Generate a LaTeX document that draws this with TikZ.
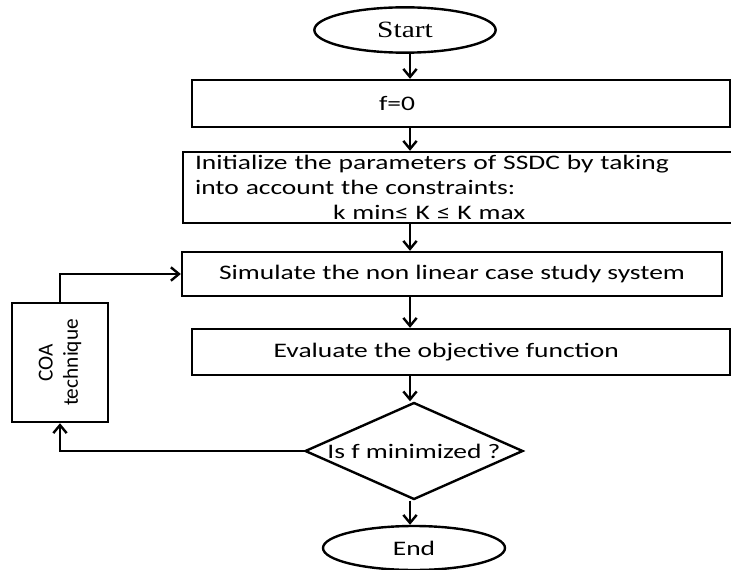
\documentclass[tikz,border=0pt]{standalone}
\usepackage{fontspec}
\setmainfont{Carlito}[FakeStretch=1.33]
\newfontfamily\startfont{Liberation Serif}[FakeStretch=1.26]
\newfontfamily\coafont{Carlito}
\usetikzlibrary{arrows.meta,shapes.geometric}
\tikzset{
  txt/.style  = {font=\fontsize{15.5}{19}\selectfont},
  box/.style  = {draw=black, line width=1.8pt, inner sep=0pt, txt},
  term/.style = {ellipse, draw=black, line width=1.8pt, inner sep=0pt,
                 minimum width=136pt, minimum height=34pt},
  dec/.style  = {diamond, draw=black, line width=1.8pt, inner sep=0pt,
                 minimum width=163.5pt, minimum height=72.75pt},
  ar/.style   = {-{Straight Barb[length=6pt,width=10pt]}, line width=1.8pt},
}

\begin{document}
\begin{tikzpicture}[x=0.75pt, y=-0.75pt]
  \useasboundingbox (0,0) rectangle (731,570);
  \coordinate (spine) at (410,0);
  % main column
  \node[term, font=\startfont\fontsize{17.5}{20}\selectfont] (start) at (405,30) {Start};
  \node[box, minimum width=403.5pt, minimum height=35.25pt,
        label={[txt, xshift=-48pt]center:f=0}] (f0) at (461,103.5) {};
  \node[box, text width=403.5pt, inner xsep=9pt, minimum height=53.25pt, align=left,
        font=\fontsize{15.5}{18.75}\selectfont] (init) at (464,187.5)
       {Initialize the parameters of SSDC by taking\\
        into account the constraints:\\
        \hspace*{103.5pt}k min≤ K ≤ K max};
  \node[box, minimum width=405pt, minimum height=33pt] (sim) at (452,274)
       {Simulate the non linear case study system};
  \node[box, minimum width=403.5pt, minimum height=34.5pt,
        label={[txt, xshift=-11pt]center:Evaluate the objective function}] (eval) at (461,352) {};
  \node[dec, label={[txt]center:Is f minimized ?}] (dec) at (414,451) {};
  \node[term, txt, minimum width=136.5pt, minimum height=33pt] (end) at (414,548) {End};
  % optimiser
  \node[box, minimum width=72pt, minimum height=89.25pt,
        label={[font=\coafont\fontsize{16}{19}\selectfont, rotate=90, align=center]center:COA\\technique}]
        (coa) at (60,362.5) {};
  \draw[ar] (start.south -| spine) -- (f0.north -| spine);
  \draw[ar] (f0.south -| spine) -- (init.north -| spine);
  \draw[ar] (init.south -| spine) -- (sim.north -| spine);
  \draw[ar] (sim.south -| spine) -- (eval.north -| spine);
  \draw[ar] (eval.south -| spine) -- (dec.north -| spine);
  \draw[ar] (dec.south -| spine) -- (end.north -| spine);
  \draw[ar] (dec.west) -| (coa.south);
  \draw[ar] (coa.north) |- (sim.west);
\end{tikzpicture}
\end{document}
